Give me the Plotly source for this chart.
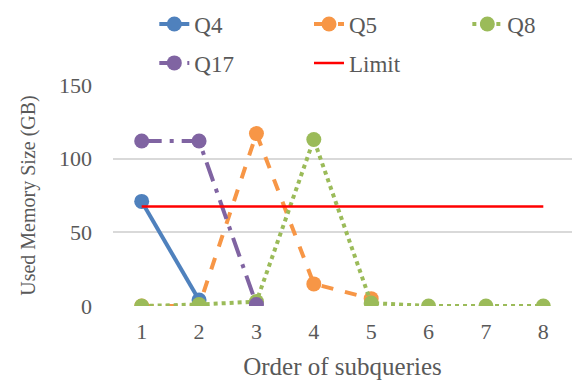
import plotly.graph_objects as go

order = [1, 2, 3, 4, 5, 6, 7, 8]
q4 = [71, 4]
q5 = [0, 0, 117, 15, 5]
q8 = [0, 1, 3, 113, 2, 0, 0, 0]
q17 = [112, 112, 1]
limit = [67.5, 67.5, 67.5, 67.5, 67.5, 67.5, 67.5, 67.5]

FONT = "Liberation Serif"
TXT = "#595959"

fig = go.Figure()

def add(name, ys, color, dash, leg, width=4):
    fig.add_trace(go.Scatter(
        x=order[:len(ys)], y=ys, name=name, mode="lines+markers",
        line=dict(color=color, width=width, dash=dash),
        marker=dict(color=color, size=15), legend=leg,
    ))

add("Q4", q4, "#4F81BD", "solid", "legend")
add("Q5", q5, "#F79646", "dash", "legend2")
add("Q8", q8, "#9BBB59", "dot", "legend3")
add("Q17", q17, "#8064A2", "longdashdot", "legend4")
fig.add_trace(go.Scatter(
    x=order, y=limit, name="Limit", mode="lines",
    line=dict(color="#FF0000", width=2.5), legend="legend5",
))

leg_common = dict(
    orientation="h", xanchor="left", yanchor="top",
    font=dict(family=FONT, size=23, color=TXT),
    bgcolor="rgba(0,0,0,0)",
)
row1, row2 = 1.373, 1.197
col1, col2, col3 = 0.09, 0.427, 0.772

fig.update_layout(
    width=572, height=381,
    margin=dict(l=113, r=0, t=85, b=75, autoexpand=False),
    paper_bgcolor="white", plot_bgcolor="white",
    font=dict(family=FONT, color=TXT, size=20),
    showlegend=True,
    legend=dict(x=col1, y=row1, **leg_common),
    legend2=dict(x=col2, y=row1, **leg_common),
    legend3=dict(x=col3, y=row1, **leg_common),
    legend4=dict(x=col1, y=row2, **leg_common),
    legend5=dict(x=col2, y=row2, **leg_common),
    xaxis=dict(
        range=[0.5, 8.5], tickvals=order, ticktext=[str(v) for v in order],
        showgrid=False, zeroline=False, showline=False, ticks="",
        tickfont=dict(family=FONT, size=22, color=TXT),
        ticklabelstandoff=10,
        title=dict(text="Order of subqueries", font=dict(family=FONT, size=25, color=TXT), standoff=14),
    ),
    yaxis=dict(
        range=[0, 150], tickvals=[0, 50, 100, 150],
        showgrid=True, gridcolor="#D9D9D9", gridwidth=1.5,
        zeroline=False, showline=False, ticks="",
        tickfont=dict(family=FONT, size=22, color=TXT),
        ticklabelstandoff=20,
        title=dict(text="Used Memory Size (GB)", font=dict(family=FONT, size=20, color=TXT), standoff=18),
    ),
)

fig.write_html("out.html", config={"displayModeBar": False},
               post_script="document.body.style.margin='0';")
